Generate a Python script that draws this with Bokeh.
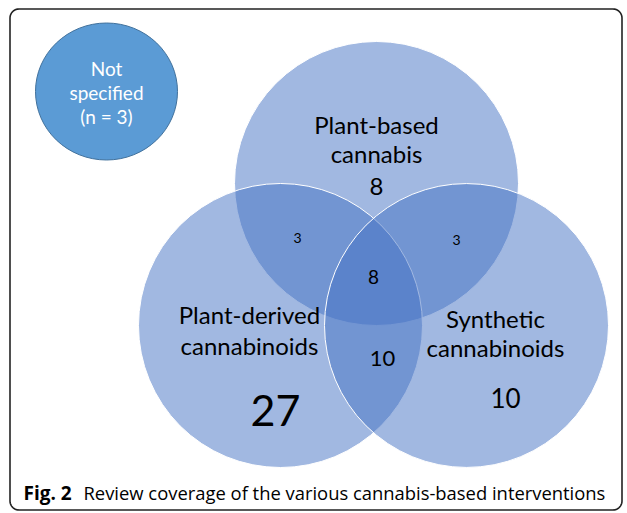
import numpy as np
from bokeh.plotting import figure
from bokeh.models import Range1d
from bokeh.core.properties import value
from bokeh.embed import file_html
from bokeh.resources import INLINE

# ---- data ----
set_names = [["Plant-based", "cannabis"], ["Plant-derived", "cannabinoids"], ["Synthetic", "cannabinoids"]]
only_counts = [8, 27, 10]            # PB only, PD only, S only
pair_labels = ["PB&PD", "PB&S", "PD&S"]
pair_counts = [3, 3, 10]
all_count = 8
not_specified = 3
caption_bold = "Fig. 2"
caption_rest = "Review coverage of the various cannabis-based interventions"

W, H = 627, 513
p = figure(width=W, height=H, output_backend="svg", toolbar_location=None,
           x_range=Range1d(0, W), y_range=Range1d(H, 0),
           min_border=0, outline_line_color=None)
p.axis.visible = False
p.grid.visible = False
p.background_fill_color = "white"

# rounded border
x0, x1, y0, y1, r = 9.5, 621.5, 8.5, 509.5, 9
pts_x, pts_y = [], []
for cx, cy, a0 in [(x1 - r, y0 + r, -90), (x1 - r, y1 - r, 0), (x0 + r, y1 - r, 90), (x0 + r, y0 + r, 180)]:
    t = np.radians(np.linspace(a0, a0 + 90, 12))
    pts_x += list(cx + r * np.cos(t)); pts_y += list(cy + r * np.sin(t))
pts_x.append(pts_x[0]); pts_y.append(pts_y[0])
p.line(pts_x, pts_y, line_color="#222222", line_width=1.6)

# Venn circles (Plant-based, Plant-derived, Synthetic)
cxs = [376, 280, 466]
cys = [183, 325, 325]
rad = 142
p.circle(x=cxs, y=cys, radius=rad, fill_color="#4472C4", fill_alpha=0.5,
         line_color="white", line_width=1)

# Not specified circle
p.ellipse(x=[106], y=[91], width=142, height=137, width_units="screen", height_units="screen",
          fill_color="#5B9BD5", line_color="#41719C", line_width=1)

font = value("Lato")
# set labels (one text per line)
lab_x = [376, 249, 495]
lab_y = [[124, 153], [314, 345], [318, 347]]
for i, lines in enumerate(set_names):
    p.text(x=[lab_x[i]] * len(lines), y=lab_y[i], text=lines, text_font=font, text_font_size="24px",
           text_align="center", text_baseline="middle", text_color="black")

# only counts
p.text(x=[376, 275, 505], y=[186, 410, 397], text=[str(c) for c in only_counts],
       text_font=font, text_font_size=["24px", "43px", "26px"], text_align="center",
       text_baseline="middle", text_color="black")
# pair counts
p.text(x=[297, 456, 382], y=[237, 239, 358], text=[str(c) for c in pair_counts],
       text_font=font, text_font_size=["14px", "14px", "22px"], text_align="center",
       text_baseline="middle", text_color="black")
# triple
p.text(x=[373], y=[276], text=[str(all_count)], text_font=font, text_font_size="19px",
       text_align="center", text_baseline="middle", text_color="black")

# not specified
p.text(x=[106, 106, 106], y=[68, 92, 116], text=["Not", "specified", "(n = %d)" % not_specified],
       text_font=font, text_font_size="19px", text_align="center", text_baseline="middle",
       text_color="white")

# caption
p.text(x=[23], y=[492], text=[caption_bold], text_font=value("Open Sans"), text_font_style="bold",
       text_font_size="19px", text_align="left", text_baseline="middle", text_color="black")
p.text(x=[83], y=[492], text=[caption_rest], text_font=value("Open Sans"),
       text_font_size="18.4px", text_align="left", text_baseline="middle", text_color="black")

open("out.html", "w").write(file_html(p, INLINE))
